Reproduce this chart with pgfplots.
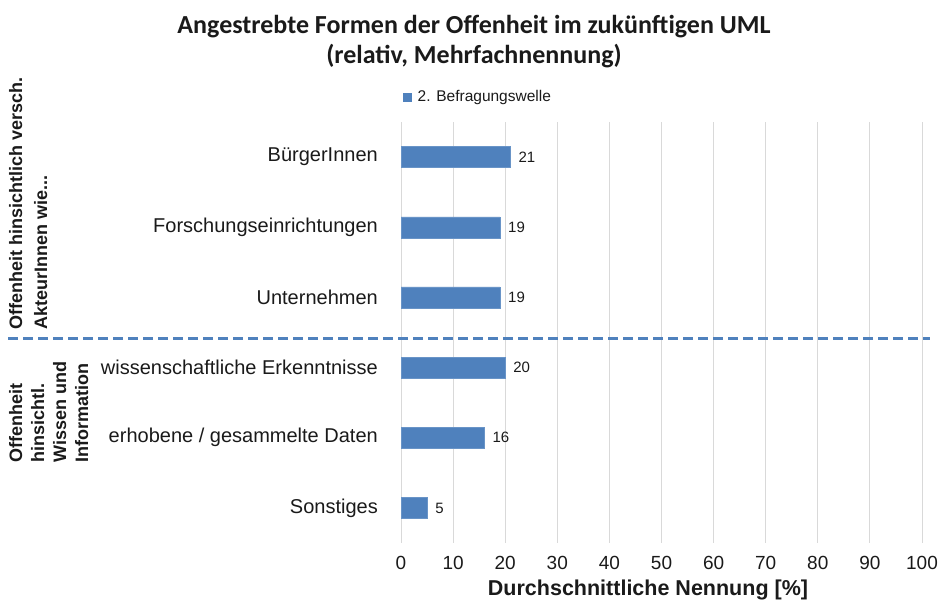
\documentclass[border=0pt]{standalone}
\usepackage{pgfplots}
\pgfplotsset{compat=1.18}
\usepackage{fontspec}
\setmainfont{Liberation Sans}
\newfontfamily\titlefont{Carlito}
\definecolor{barblue}{HTML}{4F81BD}
\definecolor{gridgray}{HTML}{D9D9D9}
\definecolor{txt}{HTML}{1A1A1A}
\begin{document}
\begin{tikzpicture}
\useasboundingbox (0,0) rectangle (939pt,604pt);
\begin{axis}[
  at={(401pt,61pt)}, anchor=south west,
  scale only axis, width=521pt, height=421pt,
  xbar, bar width=21pt,
  xmin=0, xmax=100, ymin=-0.5, ymax=5.5, y dir=reverse,
  xtick={0,10,...,100}, ytick={0,...,5},
  yticklabels={BürgerInnen, Forschungseinrichtungen, Unternehmen, wissenschaftliche Erkenntnisse, erhobene / gesammelte Daten, Sonstiges},
  axis line style={draw=none},
  major tick length=0pt,
  xmajorgrids, grid style={gridgray, line width=1pt},
  tick label style={text=txt},
  yticklabel style={font=\fontsize{20}{24}\selectfont, inner sep=0pt, xshift=-23pt},
  xticklabel style={font=\fontsize{19}{23}\selectfont, inner sep=0pt, yshift=-13pt},
  /pgf/number format/assume math mode=true,
  point meta=x,
  nodes near coords, nodes near coords align={horizontal},
  every node near coord/.append style={font=\fontsize{15}{18}\selectfont, text=txt, anchor=west, inner sep=0pt, xshift=8pt},
  clip=false,
  legend style={draw=none, fill=none, at={(0.004,1.06)}, anchor=west, inner sep=0pt, font=\fontsize{15.5}{18}\selectfont, text=txt, legend cell align=left, /tikz/every odd column/.append style={column sep=4pt}},
  legend image code/.code={\fill[barblue] (0pt,-4pt) rectangle (8pt,4pt);},
]
\addplot[fill=barblue, draw=barblue!85!white] coordinates {(21,0) (19,1) (19,2) (20,3) (16,4) (5,5)};
\legend{2. Befragungswelle}
\draw[barblue, line width=3pt, dash pattern=on 10pt off 5pt] (axis cs:-75.4,2.58) -- (axis cs:101.5,2.58);
\end{axis}
\node[font=\titlefont\bfseries\fontsize{26}{30}\selectfont, text=txt, align=center] at (474pt,562pt) {Angestrebte Formen der Offenheit im zukünftigen UML\\(relativ, Mehrfachnennung)};
\node[font=\bfseries\fontsize{21.5}{26}\selectfont, text=txt] at (648pt,14pt) {Durchschnittliche Nennung [\%]};
\node[rotate=90, anchor=north west, align=left, font=\bfseries\fontsize{18}{25}\selectfont, text=txt, inner sep=0pt] at (9pt,274pt) {Offenheit hinsichtlich versch.\\AkteurInnen wie...};
\node[rotate=90, anchor=north west, align=left, font=\bfseries\fontsize{18}{22}\selectfont, text=txt, inner sep=0pt] at (9pt,141pt) {Offenheit\\hinsichtl.\\Wissen und\\Information};
\end{tikzpicture}
\end{document}
